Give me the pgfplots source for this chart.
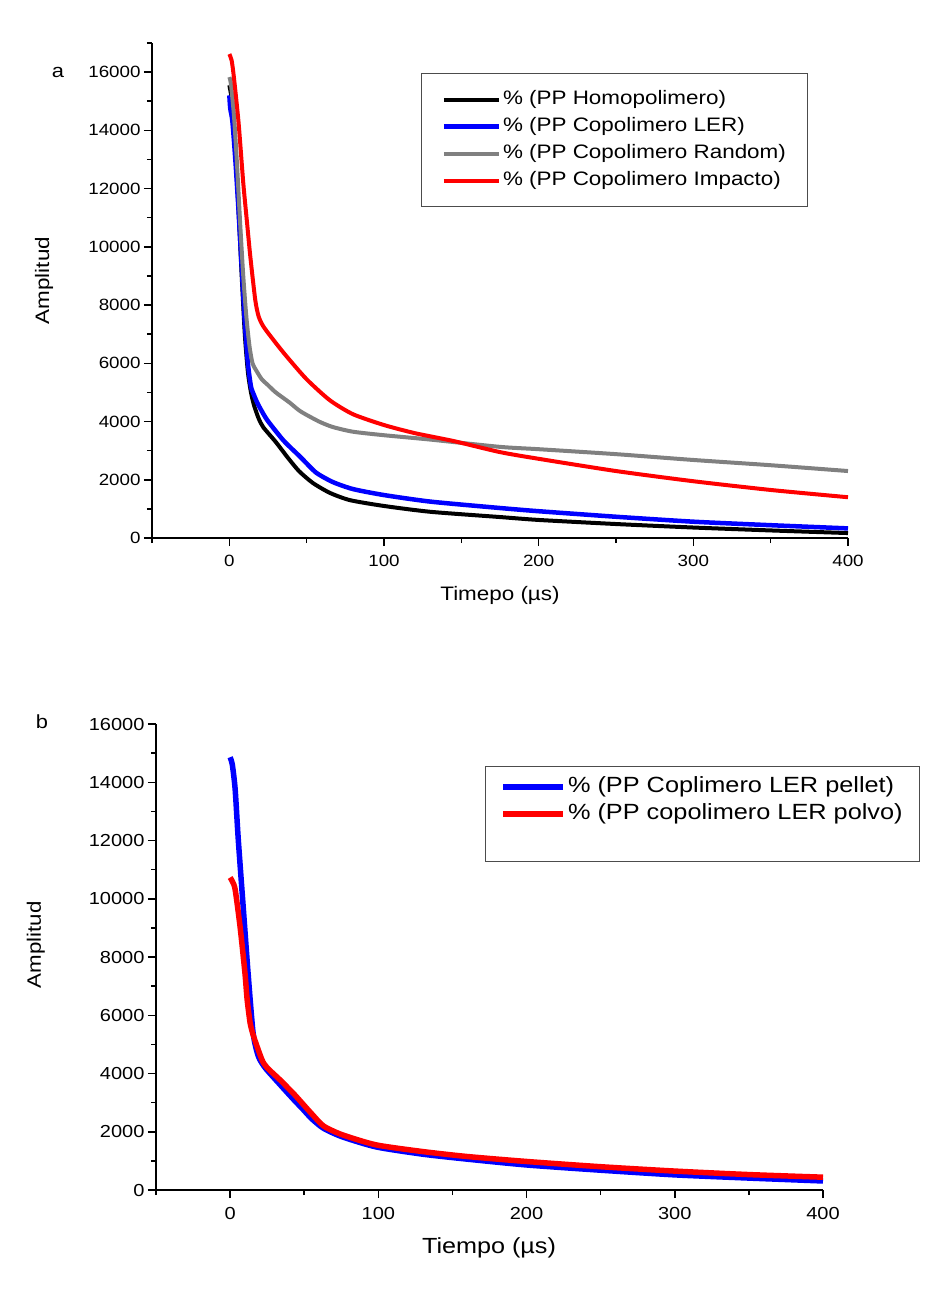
\documentclass[border=0pt]{standalone}
\usepackage{fontspec}
\setmainfont{Liberation Sans}[FakeStretch=1.15]
\usepackage{pgfplots}
\pgfplotsset{compat=1.18}
\pgfplotstableread{
x y
0 15550
2 14900
4 13300
6 11200
8 9000
10 7000
12 5700
14 5000
16 4550
19 4100
22 3800
30 3300
37.5 2780
45 2300
54 1890
65 1550
78 1300
100 1100
130 900
175 720
200 620
250 480
300 360
350 260
400 170
}\homo
\pgfplotstableread{
x y
0 15200
0.6 14750
2 14300
4 12900
6 11200
8 9300
10 7400
12 6000
14 5200
16 4900
18 4650
20 4450
24.5 4050
35 3350
46 2780
56 2250
67 1920
80 1680
100 1475
130 1250
175 1030
200 920
250 730
300 560
350 440
400 330
}\ler
\pgfplotstableread{
x y
0 15830
1 15600
3 14500
5 12800
7 10800
9 9000
11 7600
13 6600
15 6000
18 5700
21 5450
25 5250
30 5000
39 4650
46 4350
58 4000
67 3810
80 3650
100 3530
130 3380
175 3130
200 3050
250 2880
300 2680
350 2500
400 2300
}\random
\pgfplotstableread{
x y
0 16620
1.5 16400
3 15800
6 14250
9 12200
11.5 10800
13.6 9650
16.8 8160
19 7600
22.2 7250
30 6700
37.3 6220
50 5450
65 4730
80 4250
100 3880
120 3600
145 3330
175 2950
200 2720
250 2300
300 1950
350 1650
400 1400
}\impacto
\pgfplotstableread{
x y
0 14860
1.5 14600
3.4 13760
5.5 12040
8.8 9740
12.1 7460
15.5 5400
19 4600
23.6 4200
33.7 3620
43 3100
49 2780
55 2450
63 2120
75.5 1830
98.5 1480
130 1230
160 1060
200 860
250 680
300 520
350 410
400 310
}\pellet
\pgfplotstableread{
x y
0 10730
1.5 10600
3.4 10320
6.7 9050
10 7460
11.5 6540
13.5 5740
15.7 5300
21.5 4470
25 4200
33.7 3780
43 3300
49 2960
55 2620
63 2200
75.5 1900
98.5 1550
130 1320
160 1150
200 980
250 800
300 650
350 530
400 440
}\polvo
\pgfplotsset{
  common/.style={
    scale only axis, axis lines=left, axis line style={-, line width=1.5pt},
    xmin=-50, xmax=400, ymin=0,
    xtick={0,100,200,300,400}, minor xtick={-50,50,150,250,350},
    tick align=outside, major tick length=8pt, minor tick length=5pt,
    tick style={black, line width=1.5pt},
    scaled ticks=false, /pgf/number format/assume math mode=true,
    yticklabel style={/pgf/number format/1000 sep={}},
    xticklabel style={yshift=-6pt},
    legend cell align=left,
  }
}
\begin{document}
\begin{tikzpicture}
\useasboundingbox (0,0) rectangle (941pt,-1293pt);
\node[font=\fontsize{19}{20}\selectfont] at (58pt,-72pt) {a};
\node[font=\fontsize{19}{20}\selectfont] at (42pt,-722pt) {b};
\begin{axis}[common,
  at={(152pt,-538pt)}, anchor=south west, width=696pt, height=495pt,
  ymax=17000, ytick={0,2000,...,16000}, minor ytick={1000,3000,...,17000},
  tick label style={font=\fontsize{16.3}{18}\selectfont},
  xlabel={Timepo (µs)}, ylabel={Amplitud},
  label style={font=\fontsize{19.5}{20}\selectfont},
  xlabel style={at={(axis description cs:0.5,-0.117)}, anchor=center},
  ylabel style={at={(axis description cs:-0.155,0.52)}, anchor=center},
  legend style={at={(axis description cs:0.3865,0.939)}, anchor=north west,
    draw=black!70, line width=1pt, fill=none,
    font=\fontsize{19.5}{20}\selectfont, inner xsep=20pt, inner ysep=15pt,
    row sep=5pt, nodes={text height=14pt, text depth=4pt, inner sep=2pt}},
  legend image code/.code={\draw[#1] (0pt,0pt) -- (55pt,0pt);},
]
\addplot[black, line width=4pt, smooth, tension=0.4] table {\homo};
\addlegendentry{\% (PP Homopolimero)}
\addplot[blue, line width=4.5pt, smooth, tension=0.4] table {\ler};
\addlegendentry{\% (PP Copolimero LER)}
\addplot[gray, line width=4pt, smooth, tension=0.4] table {\random};
\addlegendentry{\% (PP Copolimero Random)}
\addplot[red, line width=4pt, smooth, tension=0.4] table {\impacto};
\addlegendentry{\% (PP Copolimero Impacto)}
\end{axis}
\begin{axis}[common,
  at={(156pt,-1190pt)}, anchor=south west, width=667pt, height=466pt,
  ymax=16000, ytick={0,2000,...,16000}, minor ytick={1000,3000,...,15000},
  tick label style={font=\fontsize{17.4}{18}\selectfont},
  xlabel={Tiempo (µs)}, ylabel={Amplitud},
  xlabel style={font=\fontsize{21.9}{22}\selectfont, at={(axis description cs:0.4993,-0.124)}, anchor=center},
  ylabel style={font=\fontsize{19.4}{20}\selectfont, at={(axis description cs:-0.18,0.526)}, anchor=center},
  legend style={at={(axis description cs:0.4933,0.910)}, anchor=north west,
    draw=black!70, line width=1pt, fill=none,
    font=\fontsize{22}{22}\selectfont, inner xsep=15pt, inner ysep=9pt,
    row sep=4pt, nodes={text height=15pt, text depth=4pt, inner sep=2pt}},
  legend image code/.code={\draw[#1] (0pt,0pt) -- (60pt,0pt);},
]
\addplot[blue, line width=5.5pt, smooth, tension=0.4] table {\pellet};
\addlegendentry{\% (PP Coplimero LER pellet)}
\addplot[red, line width=5.5pt, smooth, tension=0.4] table {\polvo};
\addlegendentry{\% (PP copolimero LER polvo)}
\addlegendimage{empty legend}
\addlegendentry{}
\end{axis}
\end{tikzpicture}
\end{document}
